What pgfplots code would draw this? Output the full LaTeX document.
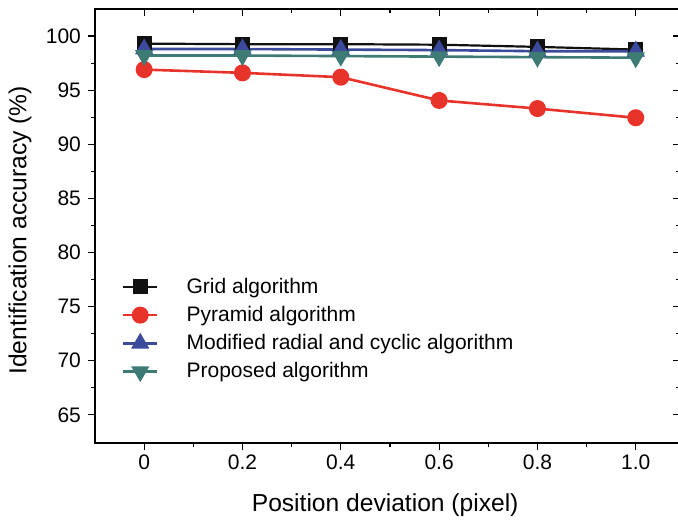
\documentclass[border=0pt]{standalone}
\usepackage{fontspec}
\setmainfont{Liberation Sans}
\usepackage{pgfplots}
\pgfplotsset{compat=1.18}
\definecolor{gridblk}{HTML}{111111}
\definecolor{pyrred}{HTML}{E8332B}
\definecolor{modblue}{HTML}{3C4A9C}
\definecolor{propteal}{HTML}{3E7B75}

\begin{document}
\begin{tikzpicture}
  \pgfplotsset{
    base/.style={
      scale only axis,
      width=292.5pt, height=217pt,
      xmin=-0.1, xmax=1.09,
      ymin=62.4, ymax=102.5,
      xtick={0,0.2,0.4,0.6,0.8,1.0},
      xticklabels={0,0.2,0.4,0.6,0.8,1.0},
      ytick={65,70,75,80,85,90,95,100},
      minor x tick num=1,
      minor y tick num=1,
      major tick length=3.5pt,
      minor tick length=2pt,
      tick style={black, line width=0.6pt},
      axis line style={line width=0.7pt},
      /pgf/number format/assume math mode=true,
    },
  }

  % inward ticks on top and right
  \begin{axis}[base,
      tick align=inside,
      xtick pos=right, ytick pos=right,
      xticklabels={}, yticklabels={},
    ]
  \end{axis}

  \begin{axis}[base,
      tick align=outside,
      xtick pos=left, ytick pos=left,
      ticklabel style={font=\fontsize{10.5}{12}\selectfont},
      xticklabel style={yshift=1pt},
      xlabel={Position deviation (pixel)},
      ylabel={Identification accuracy (\%)},
      label style={font=\fontsize{12.3}{14}\selectfont},
      xlabel style={at={(axis description cs:0.496,-0.143)}, anchor=center},
      ylabel style={at={(axis description cs:-0.128,0.49)}, anchor=center, rotate=0},
      legend style={draw=none, fill=none,
        at={(rel axis cs:0.035,0.40)}, anchor=north west,
        font=\fontsize{10.5}{12}\selectfont, row sep=1pt,
        /tikz/every odd column/.append style={column sep=12pt}},
      legend cell align=left,
    ]

    \addplot[gridblk, line width=1.1pt, mark=square*, mark size=3.2pt]
      coordinates {(0,99.3) (0.2,99.25) (0.4,99.25) (0.6,99.2) (0.8,99.0) (1.0,98.75)};
    \addlegendentry{Grid algorithm}

    \addplot[pyrred, line width=1.3pt, mark=*, mark size=3.6pt]
      coordinates {(0,96.9) (0.2,96.6) (0.4,96.2) (0.6,94.05) (0.8,93.3) (1.0,92.45)};
    \addlegendentry{Pyramid algorithm}

    \addplot[modblue, line width=1.3pt, mark=triangle*, mark size=4pt]
      coordinates {(0,98.8) (0.2,98.8) (0.4,98.75) (0.6,98.7) (0.8,98.6) (1.0,98.6)};
    \addlegendentry{Modified radial and cyclic algorithm}

    \addplot[propteal, line width=1.3pt, mark=triangle*, mark size=4pt,
             mark options={rotate=180}]
      coordinates {(0,98.2) (0.2,98.2) (0.4,98.15) (0.6,98.1) (0.8,98.05) (1.0,98.0)};
    \addlegendentry{Proposed algorithm}

    \coordinate (sw) at (rel axis cs:0,0);
    \coordinate (ne) at (rel axis cs:1,1);
  \end{axis}

  \pgfresetboundingbox
  \path[use as bounding box] ([xshift=-47.5pt,yshift=-40.5pt]sw) rectangle ([xshift=-1pt,yshift=4.5pt]ne);
\end{tikzpicture}
\end{document}
